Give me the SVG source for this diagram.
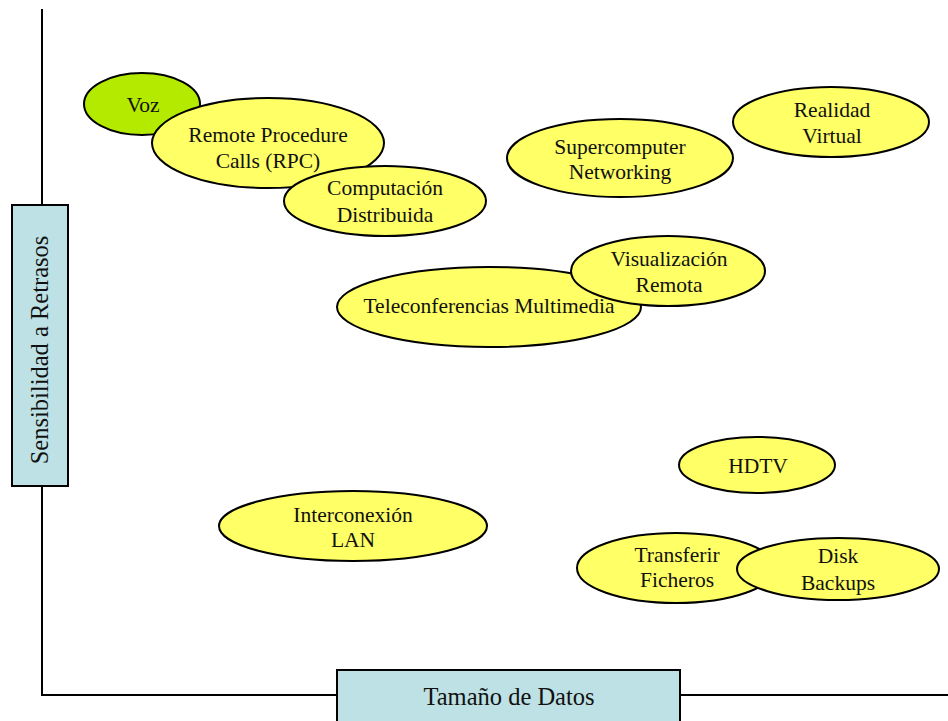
<svg xmlns="http://www.w3.org/2000/svg" width="948" height="721" viewBox="0 0 948 721">
  <style>
    .bubble { fill: #ffff66; stroke: #000; stroke-width: 2; }
    .voz { fill: #b3ea00; stroke: #000; stroke-width: 2; }
    .axisbox { fill: #bde1e4; stroke: #000; stroke-width: 2; }
    .axis { stroke: #000; stroke-width: 2; fill: none; }
    text { font-family: "Liberation Serif", "Times New Roman", serif; fill: #111; text-anchor: middle; }
    .lbl { font-size: 21.5px; }
    .axlbl { font-size: 24.5px; }
  </style>

  <rect x="0" y="0" width="948" height="721" fill="#fff"/>

  <!-- axes -->
  <g id="axes">
    <line class="axis" x1="42" y1="9" x2="42" y2="695"/>
    <line class="axis" x1="41" y1="695" x2="948" y2="695"/>
  </g>

  <g id="axis-y">
    <rect class="axisbox" x="12" y="205" width="56" height="281"/>
    <text class="axlbl" transform="translate(48 350) rotate(-90)" x="0" y="0">Sensibilidad a Retrasos</text>
  </g>

  <g id="axis-x">
    <rect class="axisbox" x="337" y="670" width="343" height="60"/>
    <text class="axlbl" x="509" y="705">Tamaño de Datos</text>
  </g>

  <!-- application bubbles -->
  <g id="voz">
    <ellipse class="voz" cx="142" cy="104" rx="58" ry="31"/>
    <text class="lbl" x="143" y="112">Voz</text>
  </g>

  <g id="rpc">
    <ellipse class="bubble" cx="268" cy="143" rx="116" ry="45"/>
    <text class="lbl" x="268" y="142">Remote Procedure</text>
    <text class="lbl" x="268" y="168">Calls (RPC)</text>
  </g>

  <g id="computacion">
    <ellipse class="bubble" cx="385" cy="201" rx="101" ry="35"/>
    <text class="lbl" x="385" y="195">Computación</text>
    <text class="lbl" x="385" y="222">Distribuida</text>
  </g>

  <g id="supercomputer">
    <ellipse class="bubble" cx="620" cy="158" rx="113" ry="39"/>
    <text class="lbl" x="620" y="154">Supercomputer</text>
    <text class="lbl" x="620" y="179">Networking</text>
  </g>

  <g id="realidad">
    <ellipse class="bubble" cx="831" cy="122" rx="98" ry="35"/>
    <text class="lbl" x="832" y="117">Realidad</text>
    <text class="lbl" x="832" y="143">Virtual</text>
  </g>

  <g id="teleconferencias">
    <ellipse class="bubble" cx="489" cy="307" rx="152" ry="40"/>
    <text class="lbl" x="489" y="313">Teleconferencias Multimedia</text>
  </g>

  <g id="visualizacion">
    <ellipse class="bubble" cx="668" cy="271" rx="97" ry="35"/>
    <text class="lbl" x="669" y="266">Visualización</text>
    <text class="lbl" x="669" y="292">Remota</text>
  </g>

  <g id="hdtv">
    <ellipse class="bubble" cx="757" cy="465" rx="78" ry="28"/>
    <text class="lbl" x="758" y="473">HDTV</text>
  </g>

  <g id="lan">
    <ellipse class="bubble" cx="353" cy="526" rx="134" ry="35"/>
    <text class="lbl" x="353" y="522">Interconexión</text>
    <text class="lbl" x="353" y="547">LAN</text>
  </g>

  <g id="transferir">
    <ellipse class="bubble" cx="676" cy="568" rx="99" ry="35"/>
    <text class="lbl" x="677" y="562">Transferir</text>
    <text class="lbl" x="677" y="587">Ficheros</text>
  </g>

  <g id="backups">
    <ellipse class="bubble" cx="838" cy="569" rx="101" ry="31"/>
    <text class="lbl" x="838" y="563">Disk</text>
    <text class="lbl" x="838" y="590">Backups</text>
  </g>

  <!-- no connectors between bubbles -->
  <g id="connectors"/>
</svg>
